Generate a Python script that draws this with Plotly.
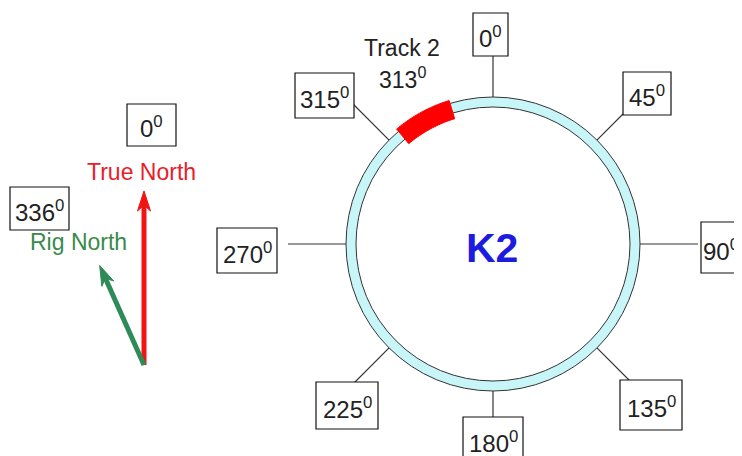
import math
import plotly.graph_objects as go

# ---------------- data ----------------
compass_angles = [0, 45, 90, 135, 180, 225, 270, 315]
compass_labels = ["0", "45", "90", "135", "180", "225", "270", "315"]
center_label = "K2"

north_names = ["True North", "Rig North"]
north_bearings = [0, 336]
north_labels = ["0", "336"]

track_name = "Track 2"
track_bearing = 313
track_arc = [320, 343]   # extent of the red track marker on the ring (deg)

# ---------------- layout / style ----------------
W, H = 742, 456
OFF = 8   # page body margin compensation
CX, CY = 493, 244
R_OUT, R_IN = 147, 137
FONT = "Liberation Sans, Arial, sans-serif"
TXT = "#222222"

# box centre / size for each compass label
BOX = {0: (490.5, 34.5, 35, 43), 45: (647, 93.5, 48, 43), 90: (721, 247.5, 40, 51),
       135: (651, 405, 62, 50), 180: (493, 440, 60, 46), 225: (347, 405.5, 62, 47),
       270: (247, 250.5, 60, 45), 315: (324.5, 95.5, 59, 45)}

ARROW_TAIL = (144, 365)
ARROW_LEN = {0: 174, 336: 109}
NORTH_COL = {0: ("#f01414", "#e8202a"), 336: ("#2e8b57", "#3a8a4a")}
NORTH_TEXT_POS = {0: (141, 172), 336: (78, 242)}
NORTH_BOX = {0: (151.5, 125, 49, 42), 336: (39.5, 208.5, 59, 43)}


def pt(b, r, cx=CX, cy=CY):
    a = math.radians(b)
    return cx + r * math.sin(a), cy - r * math.cos(a)


shapes = []
annotations = []

# leader lines
for ang in compass_angles:
    x0, y0 = pt(ang, R_OUT)
    x1, y1 = pt(ang, 205 if ang not in (0, 180) else 195)
    shapes.append(dict(type="line", x0=x0, y0=y0, x1=x1, y1=y1,
                       line=dict(color="#333333", width=1.2)))

# ring
shapes.append(dict(type="circle", x0=CX - R_OUT, y0=CY - R_OUT, x1=CX + R_OUT, y1=CY + R_OUT,
                   fillcolor="#c8f5f7", line=dict(color="#333333", width=1)))
shapes.append(dict(type="circle", x0=CX - R_IN, y0=CY - R_IN, x1=CX + R_IN, y1=CY + R_IN,
                   fillcolor="white", line=dict(color="#333333", width=1)))

# red track marker
a0, a1 = track_arc
n = 24
outer = [pt(a0 + (a1 - a0) * i / n, 150) for i in range(n + 1)]
inner = [pt(a1 - (a1 - a0) * i / n, 131) for i in range(n + 1)]
path = "M" + " L".join(f"{x:.2f},{y:.2f}" for x, y in outer + inner) + " Z"
shapes.append(dict(type="path", path=path, fillcolor="#ff0000", line=dict(color="#ff0000", width=1)))


def add_box(cx, cy, w, h, text):
    shapes.append(dict(type="rect", x0=cx - w / 2, x1=cx + w / 2, y0=cy - h / 2, y1=cy + h / 2,
                       fillcolor="white", line=dict(color="#111111", width=1.2)))
    annotations.append(dict(x=cx, y=cy + 2, text=text + "<sup>0</sup>", showarrow=False,
                            xanchor="center", yanchor="middle",
                            font=dict(family=FONT, size=24, color=TXT)))


for ang, lab in zip(compass_angles, compass_labels):
    bx, by, bw, bh = BOX[ang]
    add_box(bx, by, bw, bh, lab)

# centre label
annotations.append(dict(x=CX - 1, y=248, text=f"<b>{center_label}</b>", showarrow=False,
                        xanchor="center", yanchor="middle",
                        font=dict(family=FONT, size=41, color="#1c1ce0")))

# track label
annotations.append(dict(x=402, y=48, text=track_name, showarrow=False, xanchor="center",
                        yanchor="middle", font=dict(family=FONT, size=23, color=TXT)))
annotations.append(dict(x=402, y=78, text=f"{track_bearing}<sup>0</sup>", showarrow=False,
                        xanchor="center", yanchor="middle", font=dict(family=FONT, size=23, color=TXT)))

# north arrows
for name, b, lab in zip(north_names, north_bearings, north_labels):
    acol, tcol = NORTH_COL[b]
    tx, ty = ARROW_TAIL
    L = ARROW_LEN[b]
    hx, hy = pt(b, L, tx, ty)
    dx, dy = (hx - tx) / L, (hy - ty) / L
    nx, ny = -dy, dx
    bx_, by_ = hx - 20 * dx, hy - 20 * dy
    kx, ky = hx - 14 * dx, hy - 14 * dy
    shapes.append(dict(type="line", x0=tx, y0=ty, x1=kx, y1=ky, line=dict(color=acol, width=5)))
    head = (f"M{hx:.2f},{hy:.2f} L{bx_ + 6.5 * nx:.2f},{by_ + 6.5 * ny:.2f} "
            f"L{kx:.2f},{ky:.2f} L{bx_ - 6.5 * nx:.2f},{by_ - 6.5 * ny:.2f} Z")
    shapes.append(dict(type="path", path=head, fillcolor=acol, line=dict(color=acol, width=1)))
    px, py = NORTH_TEXT_POS[b]
    annotations.append(dict(x=px, y=py, text=name, showarrow=False, xanchor="center",
                            yanchor="middle", font=dict(family=FONT, size=23, color=tcol)))
    bx, by, bw, bh = NORTH_BOX[b]
    add_box(bx, by, bw, bh, lab)

fig = go.Figure()
fig.update_layout(
    width=W, height=H, margin=dict(l=0, r=0, t=0, b=0),
    paper_bgcolor="white", plot_bgcolor="white",
    xaxis=dict(range=[OFF, W + OFF], visible=False, fixedrange=True),
    yaxis=dict(range=[H + OFF, OFF], visible=False, fixedrange=True),
    shapes=shapes, annotations=annotations, showlegend=False,
)
fig.write_html("out.html")
